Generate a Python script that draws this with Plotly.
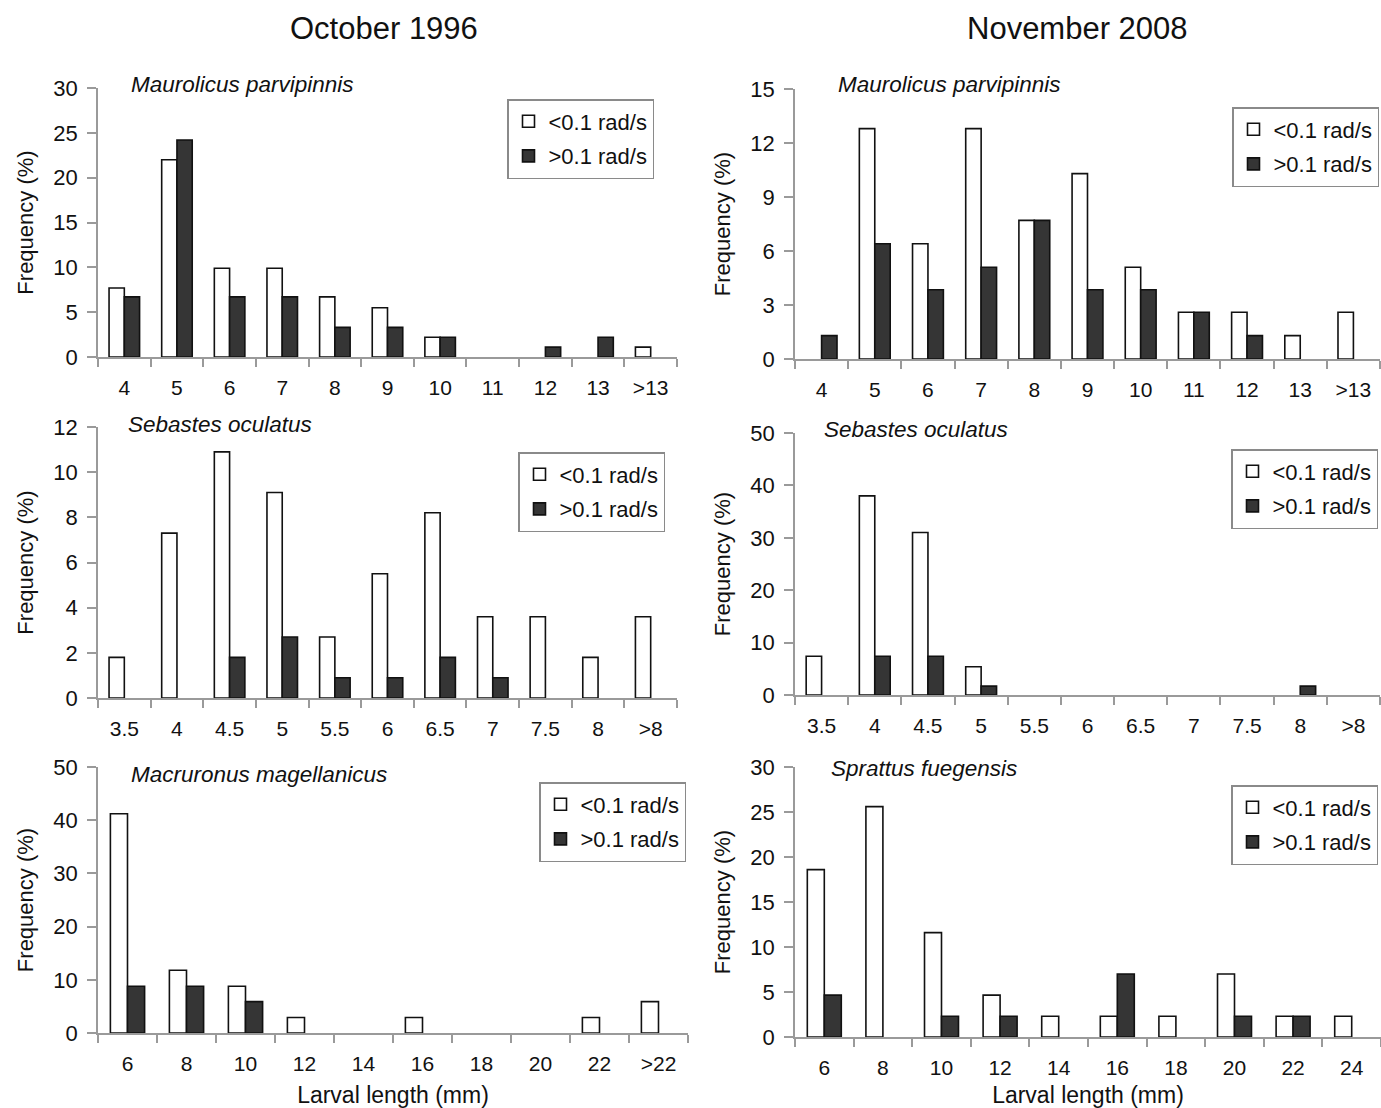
import plotly.graph_objects as go

W, H = 1381, 1108

# ---------------- data ----------------
cats_maur = ["4", "5", "6", "7", "8", "9", "10", "11", "12", "13", ">13"]
cats_seb = ["3.5", "4", "4.5", "5", "5.5", "6", "6.5", "7", "7.5", "8", ">8"]
cats_macr = ["6", "8", "10", "12", "14", "16", "18", "20", "22", ">22"]
cats_spr = ["6", "8", "10", "12", "14", "16", "18", "20", "22", "24"]

oct_maur_low = [7.7, 22.0, 9.9, 9.9, 6.7, 5.5, 2.2, 0, 0, 0, 1.1]
oct_maur_high = [6.7, 24.2, 6.7, 6.7, 3.3, 3.3, 2.2, 0, 1.1, 2.2, 0]

nov_maur_low = [0, 12.8, 6.4, 12.8, 7.7, 10.3, 5.1, 2.6, 2.6, 1.3, 2.6]
nov_maur_high = [1.3, 6.4, 3.85, 5.1, 7.7, 3.85, 3.85, 2.6, 1.3, 0, 0]

oct_seb_low = [1.8, 7.3, 10.9, 9.1, 2.7, 5.5, 8.2, 3.6, 3.6, 1.8, 3.6]
oct_seb_high = [0, 0, 1.8, 2.7, 0.9, 0.9, 1.8, 0.9, 0, 0, 0]

nov_seb_low = [7.4, 38.0, 31.0, 5.4, 0, 0, 0, 0, 0, 0, 0]
nov_seb_high = [0, 7.4, 7.4, 1.7, 0, 0, 0, 0, 0, 1.7, 0]

oct_macr_low = [41.2, 11.8, 8.8, 2.9, 0, 2.9, 0, 0, 2.9, 5.9]
oct_macr_high = [8.8, 8.8, 5.9, 0, 0, 0, 0, 0, 0, 0]

nov_spr_low = [18.6, 25.6, 11.6, 4.65, 2.3, 2.3, 2.3, 7.0, 2.3, 2.3]
nov_spr_high = [4.65, 0, 2.3, 2.3, 0, 7.0, 0, 2.3, 2.3, 0]

col_titles = ["October 1996", "November 2008"]
series_names = ["<0.1 rad/s", ">0.1 rad/s"]

# ---------------- layout helpers ----------------
def px_x(x):
    return x / W

def px_y(y):
    return 1 - y / H

FONT = "Liberation Sans, Arial, sans-serif"
AXIS_GRAY = "#9a9a9a"
TXT = "#111111"

panels = [
    dict(cats=cats_maur, low=oct_maur_low, high=oct_maur_high, name="Maurolicus parvipinnis",
         x0=98, x1=677, yt=88, yb=357, ymax=30, dtick=5, leg=(654, 99), sp=(129, 85), xt=False),
    dict(cats=cats_maur, low=nov_maur_low, high=nov_maur_high, name="Maurolicus parvipinnis",
         x0=795, x1=1380, yt=89, yb=359, ymax=15, dtick=3, leg=(1379, 107), sp=(836, 85), xt=False),
    dict(cats=cats_seb, low=oct_seb_low, high=oct_seb_high, name="Sebastes oculatus",
         x0=98, x1=677, yt=427, yb=698, ymax=12, dtick=2, leg=(665, 452), sp=(126, 424), xt=False),
    dict(cats=cats_seb, low=nov_seb_low, high=nov_seb_high, name="Sebastes oculatus",
         x0=795, x1=1380, yt=433, yb=695, ymax=50, dtick=10, leg=(1378, 449), sp=(822, 430), xt=False),
    dict(cats=cats_macr, low=oct_macr_low, high=oct_macr_high, name="Macruronus magellanicus",
         x0=98, x1=688, yt=767, yb=1033, ymax=50, dtick=10, leg=(686, 782), sp=(129, 774), xt=True),
    dict(cats=cats_spr, low=nov_spr_low, high=nov_spr_high, name="Sprattus fuegensis",
         x0=795, x1=1381, yt=767, yb=1037, ymax=30, dtick=5, leg=(1378, 785), sp=(829, 768), xt=True),
]

fig = go.Figure()
annotations = []
layout_kw = {}

for i, p in enumerate(panels, start=1):
    suf = "" if i == 1 else str(i)
    xref = "x" + suf
    yref = "y" + suf
    legname = "legend" + suf
    low_vals = [v if v != 0 else None for v in p["low"]]
    high_vals = [v if v != 0 else None for v in p["high"]]
    fig.add_trace(go.Bar(
        x=p["cats"], y=low_vals, name=series_names[0], xaxis=xref, yaxis=yref,
        marker=dict(color="white", line=dict(color=TXT, width=1.6)),
        legend=legname, legendgroup=f"a{i}", showlegend=True))
    fig.add_trace(go.Bar(
        x=p["cats"], y=high_vals, name=series_names[1], xaxis=xref, yaxis=yref,
        marker=dict(color="#353535", line=dict(color=TXT, width=1.6)),
        legend=legname, legendgroup=f"b{i}", showlegend=True))

    layout_kw["xaxis" + suf] = dict(
        domain=[px_x(p["x0"]), px_x(p["x1"])], anchor=yref, type="category",
        categoryorder="array", categoryarray=p["cats"], automargin=False,
        showline=True, linecolor=AXIS_GRAY, linewidth=1.5,
        ticks="outside", tickson="boundaries", ticklen=8, tickcolor=AXIS_GRAY, tickwidth=1.5,
        tickfont=dict(size=21, color=TXT, family=FONT), ticklabelstandoff=11,
        showgrid=False, zeroline=False, fixedrange=True,
        title=dict(text="Larval length (mm)" if p["xt"] else "",
                   font=dict(size=23, color=TXT, family=FONT), standoff=14),
    )
    layout_kw["yaxis" + suf] = dict(
        domain=[px_y(p["yb"]), px_y(p["yt"])], anchor=xref, automargin=False,
        range=[0, p["ymax"]], dtick=p["dtick"], tick0=0,
        showline=True, linecolor=AXIS_GRAY, linewidth=1.5,
        ticks="outside", ticklen=9, tickcolor=AXIS_GRAY, tickwidth=1.5,
        tickfont=dict(size=22, color=TXT, family=FONT), ticklabelstandoff=5,
        showgrid=False, zeroline=False, fixedrange=True,
        title=dict(text="Frequency (%)", font=dict(size=22, color=TXT, family=FONT), standoff=14),
    )
    layout_kw[legname] = dict(
        x=px_x(p["leg"][0]), y=px_y(p["leg"][1]), xanchor="right", yanchor="top",
        xref="paper", yref="paper",
        bordercolor="#8a8a8a", borderwidth=1.5, bgcolor="white",
        font=dict(size=22, color=TXT, family=FONT),
        traceorder="grouped", tracegroupgap=3, itemwidth=30,
    )
    annotations.append(dict(
        text=f"<i>{p['name']}</i>", x=px_x(p["sp"][0]), y=px_y(p["sp"][1]),
        xref="paper", yref="paper", xanchor="left", yanchor="middle", showarrow=False,
        font=dict(size=22.5, color=TXT, family=FONT)))

annotations.append(dict(text=col_titles[0], x=px_x(384), y=px_y(28), xref="paper", yref="paper",
                        xanchor="center", yanchor="middle", showarrow=False,
                        font=dict(size=31, color=TXT, family=FONT)))
annotations.append(dict(text=col_titles[1], x=px_x(1077), y=px_y(28), xref="paper", yref="paper",
                        xanchor="center", yanchor="middle", showarrow=False,
                        font=dict(size=31, color=TXT, family=FONT)))

fig.update_layout(
    width=W, height=H, margin=dict(l=0, r=0, t=0, b=0, autoexpand=False),
    paper_bgcolor="white", plot_bgcolor="white",
    barmode="group", bargap=0.42, bargroupgap=0,
    font=dict(family=FONT, color=TXT),
    annotations=annotations,
    **layout_kw,
)

fig.write_html(
    "out.html",
    config={"displayModeBar": False},
    post_script="document.body.style.margin='0';document.body.style.overflow='hidden';",
)
